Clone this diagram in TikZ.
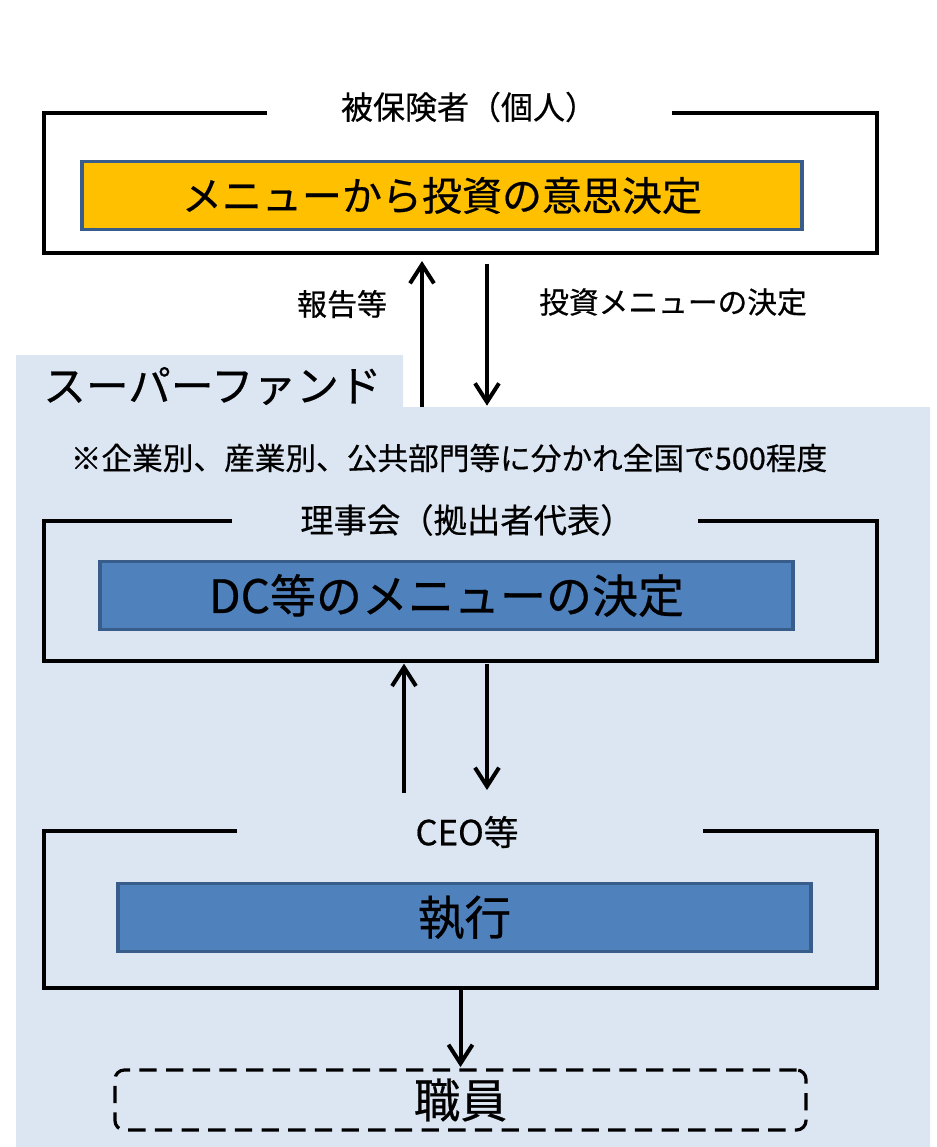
\documentclass[tikz,border=0pt]{standalone}
\usepackage{fontspec}
\setmainfont{Noto Sans CJK JP}[FakeBold=0.5]
\usetikzlibrary{arrows.meta,calc}
\definecolor{bgblue}{HTML}{DCE6F2}
\definecolor{boxorange}{HTML}{FFC000}
\definecolor{boxblue}{HTML}{4F81BD}
\definecolor{boxedge}{HTML}{385D8A}
\newcommand\pxu{0.75pt}
\begin{document}
\begin{tikzpicture}[x=0.75pt,y=-0.75pt,
  frame/.style={inner sep=0pt,outer sep=0pt,minimum width=833*\pxu},
  frameline/.style={line width=3.2pt,black},
  title/.style={inner sep=0pt,font=\fontsize{24}{28}\selectfont},
  lbl/.style={inner sep=0pt,font=\fontsize{22.5}{26}\selectfont},
  inbox/.style={draw=boxedge,line width=2.8pt,inner sep=0pt,outer sep=0pt,minimum height=68*\pxu},
  arr/.style={line width=3pt,-{Straight Barb[length=14pt,width=18pt,line width=3pt]}},
  dashbox/.style={draw,dashed,line width=2.4pt,dash pattern=on 13pt off 7pt,rounded corners=7pt,inner sep=0pt,minimum width=691*\pxu,minimum height=60*\pxu}]
\useasboundingbox (0,0) rectangle (937,1147);
% background
\fill[bgblue] (16,355) -- (403,355) -- (403,407) -- (930,407) -- (930,1147) -- (16,1147) -- cycle;

% ---- box 1
\node[frame,minimum height=140*\pxu] (f1) at (460.5,183) {};
\draw[frameline] ($(f1.north west)+(223,0)$) -- (f1.north west) -- (f1.south west) -- (f1.south east) -- (f1.north east) -- ($(f1.north east)+(-205,0)$);
\node[title] (t1) at (469,107) {被保険者（個人）};
\node[inbox,fill=boxorange,minimum width=720*\pxu,font=\fontsize{30}{34}\selectfont] (m1) at (442,195.5) {メニューから投資の意思決定};

% arrows 1-2
\coordinate (a1) at (422,407);
\coordinate (a2) at (487,407);
\draw[arr,shorten >=6pt] (a1) -- (a1 |- f1.south);
\draw[arr,shorten <=8pt,shorten >=1pt] (a2 |- f1.south) -- (a2);
\node[lbl] (l1) at (342,304) {報告等};
\node[lbl,font=\fontsize{22.3}{26}\selectfont] (l2) at (673,302) {投資メニューの決定};

% fund labels
\node[inner sep=0pt,font=\fontsize{32}{36}\selectfont,anchor=west] (sf) at (43,386) {スーパーファンド};
\node[inner sep=0pt,font=\fontsize{23}{27}\selectfont] (note) at (449,458) {※企業別、産業別、公共部門等に分かれ全国で500程度};

% ---- box 2
\node[frame,minimum height=140*\pxu] (f2) at (460.5,591) {};
\draw[frameline] ($(f2.north west)+(188,0)$) -- (f2.north west) -- (f2.south west) -- (f2.south east) -- (f2.north east) -- ($(f2.north east)+(-179,0)$);
\node[title,font=\fontsize{25}{29}\selectfont] (t2) at (467,520) {理事会（拠出者代表）};
\node[inbox,fill=boxblue,minimum width=693*\pxu,font=\fontsize{34.5}{38}\selectfont] (m2) at (446.5,595.5) {DC等のメニューの決定};

% arrows 2-3
\coordinate (b1) at (404,793);
\coordinate (b2) at (487,790);
\draw[arr,shorten >=2pt] (b1) -- (b1 |- f2.south);
\draw[arr,shorten <=2pt] (b2 |- f2.south) -- (b2);

% ---- box 3
\node[frame,minimum height=157*\pxu] (f3) at (460.5,909.5) {};
\draw[frameline] ($(f3.north west)+(193,0)$) -- (f3.north west) -- (f3.south west) -- (f3.south east) -- (f3.north east) -- ($(f3.north east)+(-174,0)$);
\node[title,font=\fontsize{26}{30}\selectfont] (t3) at (467,832) {CEO等};
\node[inbox,fill=boxblue,minimum width=693*\pxu,font=\fontsize{35}{39}\selectfont] (m3) at (464.5,917.5) {執行};

% ---- staff
\node[dashbox,font=\fontsize{35}{39}\selectfont] (st) at (460.5,1100) {職員};
\draw[arr,shorten >=1pt] (st.north |- f3.south) -- (st.north);
\end{tikzpicture}
\end{document}
